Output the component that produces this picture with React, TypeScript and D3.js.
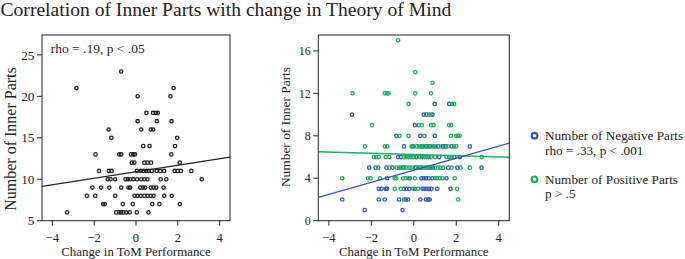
import React from "react";
import * as d3 from "d3";

// ---------- data ----------
const title = "Correlation of Inner Parts with change in Theory of Mind";
const xLabel = "Change in ToM Performance";
const yLabel = "Number of Inner Parts";
const xTicks = [-4, -2, 0, 2, 4];
const leftYTicks = [5, 10, 15, 20, 25];
const rightYTicks = [0, 4, 8, 12, 16];
const leftStat = "rho = .19, p < .05";
const legendLabels = ["Number of Negative Parts", "rho = .33, p < .001", "Number of Positive Parts", "p > .5"];

// left panel rows: [y, xs]
const leftRows: [number, number[]][] = [
  [23, [-0.71]],
  [21, [-2.85, 1.8]],
  [20, [0.08, 1.65]],
  [18, [0.5, 0.82, 0.95, 1.04]],
  [17, [0.08, 1.0, 1.7]],
  [16, [-1.31, 0.25, 0.71, 0.82]],
  [15, [-1.18, 1.97]],
  [14, [0.35, 0.65, 1.87]],
  [13, [-1.94, -0.8, -0.71, -0.24, -0.13, -0.05, 1.69]],
  [12, [-0.2, -0.08, 0.4, 0.55, 0.72, 2.1]],
  [11, [-1.77, -1.3, -1.17, 0.04, 0.23, 0.36, 0.49, 0.6, 0.76, 0.99, 1.16, 1.35, 1.85, 2.0, 2.15, 2.65]],
  [10, [-1.35, -1.22, -1.0, -0.5, -0.39, -0.28, -0.12, 0.05, 0.25, 0.4, 0.55, 1.18, 1.45, 3.15]],
  [9, [-2.09, -1.67, -1.28, -0.71, -0.36, -0.28, 0.2, 0.33, 0.44, 0.71, 0.84, 0.97, 1.32]],
  [8, [-2.35, -1.95, -1.0, -0.07, 0.07, 0.23, 0.39, 0.55, 0.71, 0.84, 1.35, 1.71]],
  [7, [-1.57, -1.5, -0.63, -0.15, 0.78, 1.12, 2.1]],
  [6, [-3.3, -0.95, -0.8, -0.71, -0.6, -0.47, -0.3, 0.04, 0.6]],
];
const leftFit: [number, number][] = [[-4.5, 9.15], [4.5, 12.66]];

const positiveRows: [number, number[]][] = [
  [17, [-0.74]],
  [14, [0.07]],
  [13, [0.88]],
  [12, [-2.89, -1.37, -1.27, -1.19, 0.07, 0.81]],
  [11, [-0.25, 1.8, 1.9]],
  [10, [0.72, 0.82]],
  [9, [-1.97, 0.24, 0.38, 0.82, 0.93, 1.66, 1.76]],
  [8, [-0.68, -0.25, 0.5, 1.75, 2.0, 2.08, 2.16]],
  [7, [-2.3, -1.36, -1.25, -0.1, 0.0, 0.15, 0.25, 0.35, 0.45, 0.55, 0.7, 0.85, 0.95, 1.05, 1.3, 1.6, 1.9, 2.0]],
  [6, [-1.88, -1.78, -1.65, -1.32, -1.16, -0.45, -0.35, -0.25, -0.15, -0.05, 0.15, 0.3, 0.5, 0.6, 0.8, 1.0, 1.54, 1.78, 1.9, 3.2]],
  [5, [-1.68, -1.16, -0.8, -0.7, -0.6, -0.45, -0.35, -0.2, -0.1, 0.05, 0.2, 0.3, 0.45, 0.55, 0.65, 0.8, 1.0, 1.15, 1.25, 1.38, 1.78, 2.2, 2.64]],
  [4, [-3.37, -2.15, -2.04, -1.6, -0.9, -0.82, -0.5, -0.38, -0.25, 0.05, 0.99, 1.1, 1.22, 1.35, 1.93]],
  [3, [-0.9, -0.61, -0.03, 0.2, 2.04]],
  [2, [-0.46, 2.09]],
];
const negativeRows: [number, number[]][] = [
  [11, [0.99, 1.67]],
  [10, [-2.91, 0.47, 0.6, 0.88]],
  [9, [0.05]],
  [8, [-0.82, 0.31, 0.99]],
  [7, [-0.46, -0.05, 0.4, 0.6, 0.75, 1.15, 1.38, 1.5, 1.78, 2.64]],
  [6, [-0.74, -0.61, 0.1, 0.4, 0.7, 1.2, 1.67, 2.17]],
  [5, [-2.1, -1.8, -1.29, -1.0, -0.5, 0.1, 0.35, 0.7, 0.9, 1.62, 2.05, 3.19]],
  [4, [-1.26, -0.19, 0.36, 0.47, 0.58, 0.7, 0.88, 1.54]],
  [3, [-1.65, -1.53, -1.32, -1.26, -0.46, -0.35, -0.22, 0.05, 0.41, 0.5, 0.6, 0.72, 0.83, 1.1, 1.73]],
  [2, [-3.37, -1.65, -1.37, -0.69, -0.38, -0.27, 0.31, 0.57, 0.68, 0.75]],
  [1, [-2.31, -0.53]],
];
const negativeFit: [number, number][] = [[-4.5, 2.2], [4.5, 7.3]];
const positiveFit: [number, number][] = [[-4.5, 6.5], [4.5, 5.98]];

// ---------- styles ----------
const FONT = "'Liberation Serif', 'Times New Roman', serif";
const BLUE = "#3556b8";
const GREEN = "#22ad62";
const INK = "#222";

const flatten = (rows: [number, number[]][]) =>
  rows.flatMap(([y, xs]) => xs.map((x) => [x, y] as [number, number]));

const fmt = (v: number) => (v < 0 ? "\u2212" + Math.abs(v) : String(v));

function Panel(props: {
  x: d3.ScaleLinear<number, number>;
  y: d3.ScaleLinear<number, number>;
  yTicks: number[];
  tickSize: number;
  yLabelSize: number;
  yLabelX: number;
  yLabelY: number;
  children?: React.ReactNode;
}) {
  const { x, y, yTicks, tickSize, yLabelSize, yLabelX, yLabelY } = props;
  const [x0, x1] = x.range();
  const [y0, y1] = y.range();
  return (
    <g>
      {props.children}
      <rect x={x0} y={y1} width={x1 - x0} height={y0 - y1} fill="none" stroke={INK} strokeWidth={1} />
      {xTicks.map((t) => (
        <g key={"x" + t}>
          <line x1={x(t)} x2={x(t)} y1={y0} y2={y0 + 5} stroke={INK} />
          <text x={x(t)} y={y0 + 21} textAnchor="middle" fontSize={12.6} fontFamily={FONT} fill={INK}>
            {fmt(t)}
          </text>
        </g>
      ))}
      {yTicks.map((t) => (
        <g key={"y" + t}>
          <line x1={x0 - 5} x2={x0} y1={y(t)} y2={y(t)} stroke={INK} />
          <text x={x0 - 7.5} y={y(t)} dy="0.35em" textAnchor="end" fontSize={tickSize} fontFamily={FONT} fill={INK}>
            {fmt(t)}
          </text>
        </g>
      ))}
      <text x={(x0 + x1) / 2} y={256} textAnchor="middle" fontSize={12.9} fontFamily={FONT} fill={INK}>
        {xLabel}
      </text>
      <text
        transform={`translate(${yLabelX},${yLabelY}) rotate(-90)`}
        textAnchor="middle"
        dy="0.35em"
        fontSize={yLabelSize}
        fontFamily={FONT}
        fill={INK}
      >
        {yLabel}
      </text>
    </g>
  );
}

export default function App() {
  const xL = d3.scaleLinear().domain([-4.5, 4.5]).range([42, 230]);
  const yL = d3.scaleLinear().domain([5, 27.4]).range([220.7, 35]);
  const xR = d3.scaleLinear().domain([-4.5, 4.5]).range([318.3, 509.3]);
  const yR = d3.scaleLinear().domain([0, 17.5]).range([220.7, 35]);

  const leftPts = flatten(leftRows);
  const negPts = flatten(negativeRows);
  const posPts = flatten(positiveRows);

  const lineL = d3.line<[number, number]>().x((d) => xL(d[0])).y((d) => yL(d[1]));
  const lineR = d3.line<[number, number]>().x((d) => xR(d[0])).y((d) => yR(d[1]));

  return (
    <svg width={685} height={259} style={{ position: "absolute", left: 0, top: 0, background: "#fff" }}>
      <text x={0.5} y={15.5} fontSize={19.6} fontFamily={FONT} fill={INK}>
        {title}
      </text>

      <Panel x={xL} y={yL} yTicks={leftYTicks} tickSize={13.3} yLabelSize={16} yLabelX={10} yLabelY={139}>
        {leftPts.map((d, i) => (
          <circle key={i} cx={xL(d[0])} cy={yL(d[1])} r={1.7} fill="none" stroke={INK} strokeWidth={1.3} />
        ))}
        <path d={lineL(leftFit) || ""} stroke={INK} strokeWidth={1.2} fill="none" />
        <text x={50.7} y={53} fontSize={13.5} fontFamily={FONT} fill={INK}>
          {leftStat}
        </text>
      </Panel>

      <Panel x={xR} y={yR} yTicks={rightYTicks} tickSize={12} yLabelSize={13.4} yLabelX={285} yLabelY={127}>
        {negPts.map((d, i) => (
          <circle key={"n" + i} cx={xR(d[0])} cy={yR(d[1])} r={1.7} fill="none" stroke={BLUE} strokeWidth={1.3} />
        ))}
        {posPts.map((d, i) => (
          <circle key={"p" + i} cx={xR(d[0])} cy={yR(d[1])} r={1.7} fill="none" stroke={GREEN} strokeWidth={1.3} />
        ))}
        <path d={lineR(positiveFit) || ""} stroke={GREEN} strokeWidth={1.3} fill="none" />
        <path d={lineR(negativeFit) || ""} stroke={BLUE} strokeWidth={1.3} fill="none" />
      </Panel>

      <g fontFamily={FONT} fontSize={13.2} fill={INK}>
        <circle cx={534.5} cy={135.7} r={2.8} fill="none" stroke={BLUE} strokeWidth={2.2} />
        <text x={545} y={140}>{legendLabels[0]}</text>
        <text x={545} y={154.5}>{legendLabels[1]}</text>
        <circle cx={534.5} cy={179.3} r={2.8} fill="none" stroke={GREEN} strokeWidth={2.2} />
        <text x={545} y={183.5}>{legendLabels[2]}</text>
        <text x={545} y={198}>{legendLabels[3]}</text>
      </g>
    </svg>
  );
}
